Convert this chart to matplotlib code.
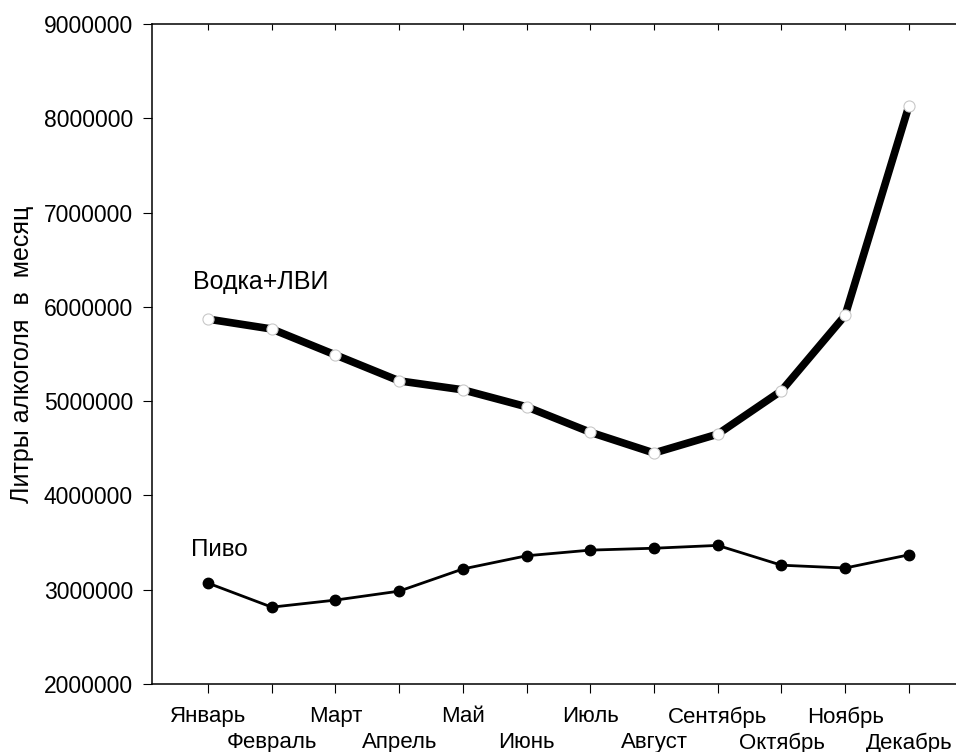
import matplotlib
matplotlib.use("Agg")
import matplotlib.pyplot as plt
import numpy as np

months = ["Январь", "Февраль", "Март", "Апрель", "Май", "Июнь",
          "Июль", "Август", "Сентябрь", "Октябрь", "Ноябрь", "Декабрь"]
vodka = [5870000, 5765000, 5490000, 5215000, 5120000, 4940000,
         4670000, 4450000, 4650000, 5110000, 5910000, 8130000]
beer = [3070000, 2815000, 2890000, 2985000, 3220000, 3360000,
        3420000, 3440000, 3470000, 3260000, 3230000, 3370000]
yticks = [2000000, 3000000, 4000000, 5000000, 6000000, 7000000, 8000000, 9000000]

plt.rcParams['font.family'] = ['Liberation Sans', 'DejaVu Sans']

fig = plt.figure(figsize=(9.56, 7.52), dpi=100)
ax = fig.add_axes([152/956, 1 - 684/752, 1 - 152/956, (684 - 24)/752])

x = np.arange(len(months))
ax.plot(x, vodka, color='black', lw=5.5, solid_capstyle='butt', zorder=3)
ax.plot(x, vodka, ls='none', marker='o', ms=8, mfc='white', mec='#c8c8c8', mew=0.8, zorder=4)
ax.plot(x, beer, color='black', lw=2.0, marker='o', ms=7.5, mfc='black', mec='black', zorder=3)

ax.text(-0.24, 6260000, "Водка+ЛВИ", fontsize=18, va='center', ha='left')
ax.text(-0.27, 3420000, "Пиво", fontsize=17.5, va='center', ha='left')

ax.set_xlim(-0.88, 11.74)
ax.set_ylim(2000000, 9000000)
ax.set_yticks(yticks)
ax.set_yticklabels([str(v) for v in yticks], fontsize=16.5)
ax.set_xticks(x)
ax.set_xticklabels(months, fontsize=16)
ax.set_ylabel("Литры алкоголя  в  месяц", fontsize=18)
ax.yaxis.set_label_coords(-0.147, 0.5)

ax.spines['right'].set_visible(False)
for s in ['left', 'top', 'bottom']:
    ax.spines[s].set_linewidth(1.1)

ax.tick_params(axis='x', which='major', direction='out', length=6.5, width=0.8,
               top=True, bottom=True, pad=9.5)
ax.tick_params(axis='x', which='major', labeltop=False)
ax.tick_params(axis='y', direction='out', length=6.5, width=0.8, right=False, pad=7.2)

for i, t in enumerate(ax.xaxis.get_major_ticks()):
    # alternate label rows
    if i % 2 == 1:
        t.set_pad(9.5 + 18.9)
    # top ticks point inward
    t.tick2line.set_marker(matplotlib.lines.TICKDOWN)
    t.tick2line.set_markersize(4.5)

fig.savefig("out.png", dpi=100)
